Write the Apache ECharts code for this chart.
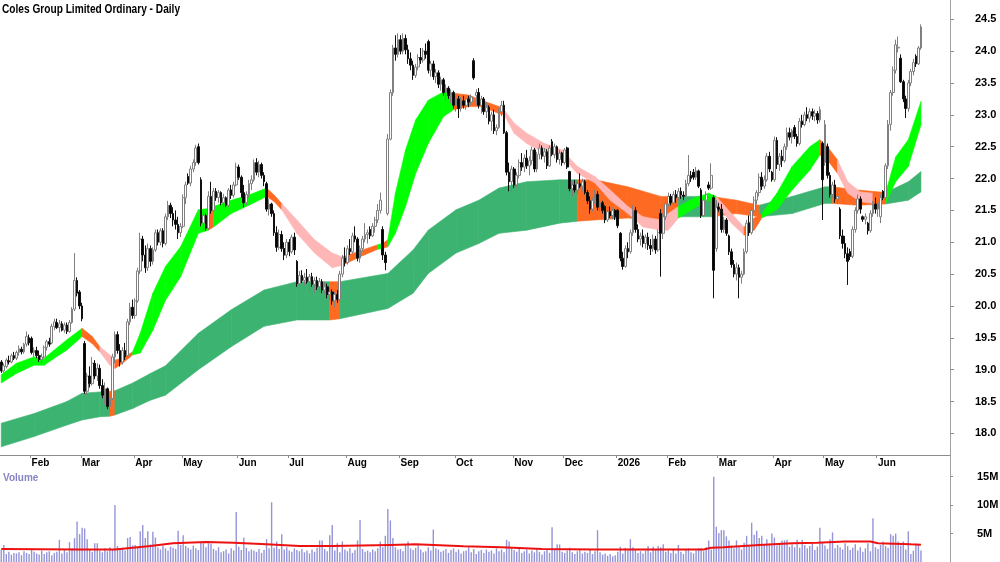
<!DOCTYPE html>
<html>
<head>
<meta charset="utf-8">
<script src="https://cdn.jsdelivr.net/npm/echarts@6.0.0/dist/echarts.min.js"></script>
<style>
  html, body { margin: 0; padding: 0; background: #fff; }
  #chart { width: 1000px; height: 562px; }
</style>
</head>
<body>
<div id="chart"></div>
<script>
// daily bars, [open, high, low, close]
var ohlc = [
  // Jan 2025
  [19.12,19.15,18.95,18.98],[18.98,19.10,18.95,19.06],[19.05,19.18,19.02,19.15],[19.14,19.22,19.08,19.12],
  [19.12,19.25,19.10,19.22],[19.22,19.28,19.15,19.18],[19.18,19.30,19.15,19.27],[19.27,19.38,19.22,19.33],
  [19.32,19.36,19.24,19.28],[19.28,19.42,19.25,19.40],[19.40,19.60,19.36,19.52],[19.50,19.55,19.38,19.42],
  // Feb
  [19.49,19.52,19.24,19.27],[19.27,19.35,19.20,19.30],[19.30,19.36,19.18,19.22],[19.22,19.30,19.12,19.16],
  [19.16,19.25,19.10,19.20],[19.20,19.38,19.18,19.35],[19.35,19.47,19.30,19.44],[19.44,19.50,19.36,19.40],
  [19.42,19.72,19.40,19.68],[19.68,19.80,19.62,19.75],[19.74,19.80,19.64,19.66],[19.66,19.78,19.58,19.72],
  [19.72,19.76,19.60,19.62],[19.62,19.74,19.58,19.70],[19.70,19.74,19.56,19.60],[19.60,19.78,19.58,19.74],
  [19.74,19.98,19.72,19.95],[19.95,20.83,19.92,20.40],[20.40,20.45,20.15,20.20],[20.22,20.25,19.95,20.00],
  // Mar
  [20.00,20.05,19.76,19.80],[19.41,19.45,18.62,18.66],[18.66,18.95,18.60,18.90],[18.90,19.05,18.72,18.78],
  [18.78,19.20,18.75,19.10],[19.10,19.15,18.85,18.90],[18.90,19.10,18.82,19.02],[19.02,19.08,18.70,18.75],
  [18.75,18.85,18.55,18.60],[18.60,18.80,18.45,18.70],[18.70,18.72,18.38,18.42],[18.42,18.60,18.34,18.55],
  [18.55,19.25,18.52,19.20],[19.20,19.60,19.10,19.55],[19.55,19.60,19.25,19.30],[19.30,19.40,19.05,19.12],
  [19.12,19.35,19.08,19.30],[19.30,19.42,19.15,19.20],[19.22,19.80,19.20,19.75],[19.75,20.05,19.70,19.98],
  [19.98,20.10,19.80,19.85],
  // Apr
  [19.85,20.12,19.80,20.08],[20.08,20.60,20.05,20.55],[20.55,21.15,20.50,21.05],[21.05,21.10,20.70,20.80],
  [20.80,20.95,20.52,20.60],[20.60,20.98,20.55,20.90],[20.90,20.95,20.62,20.70],[20.70,20.92,20.65,20.88],
  [20.88,21.20,20.85,21.15],[21.15,21.20,20.95,21.00],[21.00,21.22,20.95,21.18],[21.18,21.22,20.92,20.98],
  [20.98,21.45,20.95,21.40],[21.40,21.65,21.35,21.58],[21.58,21.62,21.38,21.45],[21.45,21.55,21.25,21.35],
  [21.35,21.50,21.20,21.28],[21.28,21.40,21.05,21.15],[21.15,21.30,21.08,21.25],
  // May
  [21.25,21.75,21.22,21.70],[21.70,21.95,21.60,21.90],[22.03,22.08,21.90,21.93],[21.93,22.20,21.88,22.15],
  [22.15,22.30,22.10,22.25],[22.25,22.53,22.20,22.48],[22.50,22.55,22.22,22.25],[21.98,22.02,21.25,21.30],
  [21.30,21.48,21.20,21.42],[21.42,21.45,21.18,21.22],[21.22,21.80,21.20,21.72],[21.72,21.95,21.45,21.50],
  [21.50,21.85,21.48,21.80],[21.80,21.85,21.65,21.70],[21.70,21.82,21.62,21.78],[21.78,21.80,21.58,21.62],
  [21.62,21.76,21.55,21.70],[21.70,21.72,21.55,21.58],[21.58,21.85,21.55,21.82],[21.82,21.90,21.68,21.74],
  [21.74,21.95,21.70,21.90],[21.90,22.25,21.88,22.18],
  // Jun
  [22.18,22.22,21.98,22.02],[22.02,22.05,21.70,21.78],[21.78,21.90,21.55,21.62],[21.62,21.80,21.58,21.75],
  [21.75,21.98,21.70,21.92],[21.92,22.05,21.82,21.98],[21.98,22.30,21.95,22.25],[22.25,22.32,22.05,22.10],
  [22.10,22.28,22.02,22.22],[22.22,22.25,22.00,22.05],[22.05,22.10,21.88,21.95],[21.92,21.95,21.48,21.52],
  [21.52,21.68,21.42,21.60],[21.60,21.62,21.40,21.45],[21.45,21.50,21.10,21.15],[21.15,21.25,20.85,20.92],
  [20.92,21.20,20.88,21.12],[21.12,21.18,20.85,20.90],[20.90,21.00,20.72,20.80],[20.80,21.05,20.75,21.00],
  // Jul
  [21.00,21.05,20.78,20.85],[20.85,21.12,20.82,21.08],[21.08,21.15,20.80,20.88],[20.70,20.72,20.30,20.35],
  [20.35,20.55,20.30,20.48],[20.48,20.56,20.36,20.40],[20.40,20.52,20.32,20.45],[20.45,20.58,20.35,20.38],
  [20.38,20.50,20.22,20.46],[20.46,20.52,20.30,20.34],[20.34,20.45,20.20,20.40],[20.40,20.46,20.25,20.30],
  [20.30,20.44,20.22,20.38],[20.38,20.42,20.20,20.25],[20.25,20.38,20.18,20.30],[20.30,20.35,20.12,20.18],
  [20.18,20.28,20.08,20.22],[20.22,20.26,20.02,20.08],[20.08,20.22,19.98,20.18],[20.18,20.25,20.05,20.10],
  [20.10,20.55,20.08,20.50],[20.50,20.80,20.45,20.75],[20.75,20.92,20.62,20.68],
  // Aug
  [20.68,20.95,20.65,20.90],[20.90,21.05,20.80,20.85],[20.85,21.15,20.82,21.10],[21.10,21.25,21.00,21.05],
  [21.05,21.08,20.70,20.75],[20.75,20.95,20.68,20.90],[20.90,21.10,20.85,21.05],[21.05,21.30,21.00,21.12],
  [21.12,21.20,20.98,21.15],[21.20,21.25,21.05,21.10],[21.10,21.30,21.08,21.25],[21.25,21.40,21.15,21.35],
  [21.35,21.60,21.30,21.50],[21.50,21.78,21.45,21.66],[21.20,21.25,20.72,20.80],[20.80,20.85,20.56,20.68],
  [21.45,22.70,21.42,22.62],[22.62,23.40,22.60,23.35],[23.35,24.10,23.30,24.05],[24.05,24.25,23.85,23.95],
  [23.95,24.28,23.90,24.18],
  // Sep
  [24.18,24.25,23.95,24.00],[24.00,24.28,23.95,24.20],[24.20,24.26,23.95,24.02],[24.02,24.10,23.80,23.88],
  [23.88,23.98,23.70,23.78],[23.78,23.85,23.55,23.62],[23.62,23.80,23.58,23.75],[23.75,23.95,23.70,23.90],
  [23.90,24.05,23.80,23.86],[23.86,24.05,23.82,24.00],[24.00,24.12,23.88,23.95],[24.15,24.18,23.65,23.70],
  [23.70,23.85,23.60,23.80],[23.80,23.85,23.55,23.60],[23.60,23.72,23.50,23.66],[23.66,23.70,23.42,23.48],
  [23.48,23.60,23.38,23.55],[23.55,23.58,23.30,23.35],[23.35,23.48,23.22,23.42],[23.42,23.45,23.25,23.30],
  [23.30,23.40,23.18,23.35],[23.35,23.38,23.10,23.15],
  // Oct
  [23.15,23.30,23.05,23.25],[23.25,23.30,22.95,23.10],[23.10,23.28,23.05,23.22],[23.22,23.30,23.10,23.15],
  [23.15,23.28,23.08,23.25],[23.25,23.30,23.12,23.20],[23.20,23.32,23.15,23.28],[23.85,23.89,23.55,23.58],
  [23.30,23.40,23.15,23.35],[23.35,23.42,23.10,23.15],[23.15,23.30,23.02,23.25],[23.25,23.28,23.00,23.05],
  [23.05,23.20,22.95,23.12],[23.12,23.15,22.85,22.90],[22.90,23.05,22.75,23.00],[23.00,23.08,22.70,22.75],
  [22.75,22.85,22.68,22.80],[22.80,23.10,22.78,23.05],[23.05,23.22,22.98,23.15],[23.15,23.22,22.70,22.72],
  [22.72,22.75,22.05,22.10],[22.10,22.25,21.80,21.95],[21.95,22.20,21.78,22.15],
  // Nov
  [22.15,22.18,21.85,21.90],[21.90,22.10,21.85,22.05],[22.05,22.30,22.00,22.25],[22.25,22.40,22.12,22.18],
  [22.18,22.38,22.10,22.32],[22.32,22.45,22.15,22.20],[22.20,22.35,22.05,22.28],[22.28,22.50,22.22,22.45],
  [22.45,22.48,22.10,22.15],[22.15,22.42,22.10,22.38],[22.38,22.55,22.30,22.48],[22.48,22.52,22.30,22.35],
  [22.35,22.48,22.25,22.42],[22.42,22.46,22.15,22.20],[22.20,22.52,22.18,22.48],[22.58,22.62,22.35,22.38],
  [22.38,22.55,22.32,22.50],[22.50,22.52,22.25,22.30],[22.30,22.45,22.22,22.40],[22.40,22.42,22.20,22.25],
  // Dec
  [22.25,22.48,22.22,22.45],[22.48,22.50,22.15,22.18],[22.11,22.12,21.80,21.84],[21.84,21.95,21.72,21.90],
  [21.90,21.98,21.78,21.82],[21.82,21.96,21.75,21.92],[21.92,22.08,21.85,21.88],[21.88,22.00,21.80,21.95],
  [21.95,21.98,21.75,21.78],[21.78,21.82,21.60,21.65],[21.65,21.72,21.45,21.52],[21.52,21.70,21.48,21.66],
  [21.66,21.82,21.60,21.78],[21.75,21.80,21.50,21.55],[21.55,21.66,21.48,21.62],[21.62,21.65,21.45,21.50],
  [21.56,21.58,21.30,21.35],[21.35,21.52,21.32,21.48],[21.48,21.56,21.38,21.42],[21.42,21.55,21.36,21.50],
  [21.50,21.52,21.35,21.40],
  // Jan 2026
  [21.50,21.52,21.22,21.26],[21.14,21.16,20.70,20.75],[20.75,20.85,20.57,20.62],[20.62,20.95,20.60,20.90],
  [20.90,21.00,20.75,20.85],[20.85,21.20,20.82,21.15],[21.15,21.58,21.10,21.50],[21.50,21.55,21.15,21.20],
  [21.20,21.28,21.00,21.05],[21.05,21.15,20.95,21.10],[21.10,21.20,20.92,20.98],[20.98,21.12,20.90,21.08],
  [21.08,21.15,20.88,20.95],[20.95,21.05,20.80,20.90],[20.90,21.12,20.85,21.05],[21.05,21.10,20.82,20.88],
  [20.88,21.20,20.85,21.15],[21.45,21.52,20.46,21.14],[21.14,21.45,21.05,21.40],[21.40,21.65,21.35,21.60],
  // Feb
  [21.60,21.78,21.55,21.72],[21.72,21.76,21.58,21.62],[21.62,21.80,21.58,21.75],[21.75,21.82,21.62,21.70],
  [21.70,21.85,21.65,21.80],[21.80,21.86,21.68,21.74],[21.74,21.80,21.66,21.72],[21.72,21.98,21.70,21.92],
  [21.92,22.37,21.88,22.05],[22.05,22.12,21.95,22.00],[22.10,22.15,21.98,22.02],[22.02,22.18,21.98,22.12],
  [22.12,22.14,21.85,21.88],[21.82,21.85,21.38,21.42],[21.42,21.70,21.40,21.66],[21.66,21.80,21.60,21.75],
  [21.90,21.95,21.82,21.85],[21.85,22.24,21.82,22.05],[21.70,21.74,20.12,20.56],[20.90,21.66,20.85,21.55],
  // Mar
  [21.55,21.62,21.48,21.52],[21.52,21.60,21.15,21.20],[21.20,21.40,21.15,21.35],[21.35,21.38,21.10,21.14],
  [21.10,21.12,20.80,20.85],[20.85,20.90,20.60,20.65],[20.65,20.72,20.45,20.50],[20.50,20.68,20.40,20.60],
  [20.60,20.65,20.12,20.45],[20.45,20.55,20.35,20.50],[20.50,20.90,20.48,20.85],[20.85,21.35,20.82,21.30],
  [21.30,21.42,21.10,21.15],[21.15,21.55,21.12,21.50],[21.50,21.72,21.45,21.66],[21.66,21.82,21.60,21.78],
  [21.78,22.08,21.72,22.02],[22.02,22.10,21.82,21.88],[21.88,22.05,21.84,21.98],[21.98,22.40,21.95,22.35],
  [22.35,22.42,22.10,22.15],[22.10,22.12,21.95,21.98],
  // Apr
  [21.98,22.66,21.95,22.60],[22.60,22.65,22.15,22.22],[22.22,22.40,22.12,22.35],[22.35,22.45,22.18,22.28],
  [22.28,22.55,22.25,22.50],[22.50,22.80,22.45,22.72],[22.72,22.80,22.60,22.65],[22.65,22.78,22.55,22.75],
  [22.80,22.84,22.62,22.66],[22.66,22.70,22.50,22.55],[22.55,22.95,22.52,22.90],[22.90,23.00,22.80,22.85],
  [22.85,23.05,22.82,23.00],[23.00,23.12,22.90,22.95],[22.95,23.10,22.88,23.05],[23.05,23.10,22.92,22.98],
  [22.98,23.08,22.90,23.02],[23.02,23.06,22.86,22.92],[22.92,23.13,22.88,23.08],[22.55,22.58,21.35,21.98],
  // May
  [22.25,22.92,22.20,22.85],[22.50,22.55,22.00,22.05],[22.05,22.10,21.70,21.75],[21.75,21.95,21.70,21.90],
  [21.90,21.98,21.62,21.68],[21.68,21.80,21.60,21.72],[21.52,21.55,21.05,21.10],[21.10,21.20,20.90,20.98],
  [20.98,21.10,20.75,20.82],[20.82,20.92,20.33,20.70],[20.85,20.90,20.72,20.78],[20.78,21.25,20.75,21.20],
  [21.20,21.55,21.15,21.50],[21.50,21.75,21.45,21.68],[21.68,21.72,21.45,21.52],[21.40,21.42,21.32,21.36],
  [21.36,21.45,21.28,21.40],[21.30,21.32,21.12,21.18],[21.18,21.50,21.15,21.45],[21.45,21.65,21.40,21.60],
  [21.60,21.70,21.45,21.52],
  // Jun
  [21.52,21.66,21.40,21.62],[21.40,21.75,21.30,21.70],[21.80,21.82,21.66,21.70],[21.70,22.24,21.66,22.20],
  [22.20,22.92,22.15,22.85],[22.85,23.39,22.75,23.35],[23.35,23.76,23.30,23.70],[23.70,24.18,23.65,24.10],
  [24.05,24.23,23.98,24.06],[23.89,23.95,23.50,23.52],[23.52,23.55,23.20,23.25],[23.25,23.30,22.95,23.10],
  [23.10,23.55,23.05,23.50],[23.50,23.72,23.45,23.68],[23.68,23.88,23.62,23.82],[23.92,23.95,23.75,23.80],
  [23.80,24.08,23.78,24.05],[24.05,24.42,24.02,24.38]
];

// daily volume, millions
var volume = [
  2.1,3.0,1.4,1.8,1.3,1.6,1.5,1.7,1.2,1.9,1.6,1.4,
  2.2,1.8,1.5,1.3,2.0,1.4,1.7,1.9,1.2,1.6,1.8,3.9,1.5,2.1,1.7,3.5,2.4,4.2,7.1,4.9,
  6.0,5.9,4.0,2.2,1.8,3.3,3.3,2.0,1.7,2.4,1.9,2.6,2.3,10.0,2.8,2.1,2.5,2.0,4.2,4.4,2.9,
  3.0,2.6,5.4,6.5,4.2,5.4,3.1,5.3,4.3,2.6,2.2,2.9,2.4,2.0,2.7,2.5,2.3,5.5,3.0,
  4.7,2.8,2.5,2.2,2.9,2.4,2.1,3.4,3.3,2.6,3.3,3.2,2.3,2.0,2.6,1.7,1.9,2.2,1.5,2.4,2.0,8.8,
  2.7,2.1,4.3,2.5,1.9,2.2,2.0,1.8,2.3,1.6,2.1,4.0,2.4,10.5,2.5,3.6,2.3,4.9,2.2,2.6,
  2.0,1.8,2.4,2.1,1.9,2.3,1.7,2.0,1.5,2.2,1.8,2.5,3.8,3.8,2.3,1.9,4.7,6.5,2.0,3.3,1.7,3.6,2.2,
  1.9,2.4,1.6,2.1,3.8,7.4,2.3,1.8,2.0,1.7,2.2,1.9,2.4,3.6,2.6,4.6,9.3,7.3,4.2,2.6,2.2,
  2.3,1.9,3.0,3.6,2.4,2.1,2.5,2.9,2.2,1.7,1.9,2.6,2.0,5.7,2.4,2.2,1.8,2.0,2.3,1.6,2.1,2.4,
  1.8,2.2,1.5,1.9,2.0,2.6,1.7,2.3,1.4,1.9,2.1,1.6,2.2,1.8,2.0,1.5,2.4,1.9,2.2,1.7,3.9,3.6,2.5,
  2.1,1.8,2.3,1.6,1.9,2.2,1.5,2.0,1.7,2.4,1.8,1.3,1.9,2.1,1.6,6.1,2.2,3.1,3.1,1.8,
  1.6,2.0,2.5,1.7,1.4,1.9,2.2,1.5,1.8,1.6,2.1,1.4,1.9,5.6,1.7,1.3,1.5,1.1,1.4,1.0,1.2,
  1.8,2.7,1.5,2.5,2.0,4.0,2.6,2.2,1.6,1.9,1.5,2.0,2.8,1.7,2.7,2.2,2.8,2.6,3.1,1.8,
  2.0,1.6,2.3,1.5,3.0,1.8,1.4,2.1,2.4,1.7,1.5,2.0,2.4,2.4,1.9,2.6,3.8,2.2,15.0,6.2,
  5.1,5.6,5.6,4.5,3.8,2.9,2.4,3.8,2.6,2.2,3.4,4.6,2.8,6.9,4.8,5.5,4.2,4.6,3.0,4.0,3.2,5.0,
  4.3,2.9,3.3,3.8,3.8,3.9,2.7,3.1,2.6,3.9,2.5,3.9,3.0,2.4,2.8,3.2,2.1,2.7,6.0,3.5,
  2.9,2.3,4.0,5.2,2.4,3.0,2.6,2.2,3.3,2.8,2.1,2.5,3.1,2.0,2.6,1.8,2.4,3.3,1.9,7.7,2.6,
  2.3,3.0,3.6,2.8,2.5,4.9,4.6,5.0,3.6,2.9,3.6,2.2,5.4,1.4,2.0,3.2,3.0,2.0
];

// volume average line, read at these bars
var volMaIdx = [0,31,45,59,68,81,92,105,118,131,154,164,183,198,214,235,262,278,281,286,300,313,323,334,344,347,360,364];
var volMa = [2.3,2.2,2.2,2.8,3.3,3.5,3.4,3.1,2.8,2.8,3.0,3.1,2.75,2.6,2.3,2.2,2.2,2.2,2.5,2.6,3.0,3.3,3.4,3.6,3.6,3.3,3.1,3.05];

// short-term average ribbon (top / bottom), read at these bars
var shortIdx = [0,6,13,17,21,26, 32,36,39,43,45,48, 52,55,60,65,71,78, 82,84,91,98,105,108,
  111,117,124,131,135,143, 149,151,153,156,160,164, 169,175,179,185,190,197, 199,203,208,215,222,228,
  235,241,248,254,261,264, 268,274,280,283,289,294, 298,301,307,313,320,324, 327,331,335,340,345,350, 354,359,364];
var shortHi = [18.92,19.10,19.20,19.18,19.31,19.47, 19.65,19.52,19.36,19.23,19.15,19.18, 19.28,19.57,20.20,20.62,20.93,21.51,
  21.53,21.56,21.66,21.74,21.85,21.74, 21.61,21.35,21.04,20.83,20.77,20.88, 20.96,20.98,21.04,21.77,22.45,22.92,
  23.23,23.36,23.34,23.31,23.23,23.13, 23.08,22.87,22.71,22.55,22.45,22.19, 22.03,21.82,21.56,21.40,21.35,21.45,
  21.56,21.69,21.77,21.72,21.45,21.24, 21.38,21.45,21.77,22.19,22.50,22.61, 22.50,22.29,21.95,21.79,21.77,21.77,
  22.34,22.61,23.21];
var shortLo = [18.79,18.94,19.07,19.07,19.18,19.31, 19.52,19.41,19.28,19.07,19.02,19.10, 19.23,19.26,19.62,20.09,20.46,21.14,
  21.19,21.24,21.45,21.58,21.72,21.64, 21.51,21.14,20.83,20.60,20.64,20.79, 20.89,20.90,20.93,21.14,21.56,22.08,
  22.55,22.97,23.08,23.13,23.13,23.02, 23.00,22.71,22.55,22.40,22.34,22.08, 21.93,21.66,21.45,21.24,21.19,21.19,
  21.38,21.53,21.66,21.61,21.30,21.11, 21.19,21.38,21.51,21.82,22.13,22.37, 22.29,22.08,21.77,21.64,21.61,21.61,
  21.95,22.19,22.84];
// g = rising, o = mixed, p = falling (state from each sample to the next)
var shortState = ['g','g','g','g','g','g', 'o','o','p','p','o','o', 'g','g','g','g','g','g', 'o','g','g','g','o','o',
  'p','p','p','p','o','o', 'g','o','g','g','g','g', 'g','g','o','o','o','o', 'p','p','p','p','p','p',
  'p','p','p','p','p','p', 'g','g','g','p','p','o', 'o','g','g','g','g','o', 'o','p','p','p','o','g', 'g','g','g'];

// long-term average ribbon
var longIdx = [0,13,26,32,39,43, 45,52,59,65,78,91, 104,117,130,134,153,163, 169,180,189,197,208,221,
  228,235,248,261,268,281, 291,300,313,326,329,339, 350,359,364];
var longHi = [18.16,18.31,18.50,18.63,18.65,18.66, 18.67,18.79,18.94,19.06,19.57,19.94, 20.25,20.38,20.38,20.38,20.51,20.88,
  21.19,21.51,21.66,21.85,21.95,21.98, 21.98,21.98,21.87,21.72,21.72,21.72, 21.66,21.58,21.72,21.87,21.87,21.82,
  21.78,21.95,22.11];
var longLo = [17.79,17.95,18.13,18.21,18.26,18.27, 18.29,18.39,18.52,18.60,19.00,19.36, 19.68,19.78,19.78,19.80,19.96,20.20,
  20.51,20.83,20.98,21.14,21.19,21.30, 21.33,21.35,21.38,21.35,21.40,21.40, 21.45,21.40,21.45,21.61,21.61,21.58,
  21.60,21.66,21.79];
// d = rising, o = mixed
var longState = ['d','d','d','d','d','o', 'd','d','d','d','d','d', 'd','d','o','d','d','d', 'd','d','d','d','d','d',
  'o','o','o','o','d','o', 'o','d','d','d','o','o', 'd','d','d'];

var monthNames = ['Jan','Feb','Mar','Apr','May','Jun','Jul','Aug','Sep','Oct','Nov','Dec'];
var holidays = ['2025-01-27','2025-04-18','2025-04-21','2025-04-25','2025-06-09','2025-12-25','2025-12-26',
  '2026-01-01','2026-01-26','2026-04-03','2026-04-06','2026-06-08'];

// trading days, with a few empty slots after the last bar
var dates = [];
var day = new Date(Date.UTC(2025, 0, 15));
while (dates.length < 376) {
  var s = day.toISOString().slice(0, 10);
  var wd = day.getUTCDay();
  if (wd !== 0 && wd !== 6 && holidays.indexOf(s) < 0) dates.push(s);
  day.setUTCDate(day.getUTCDate() + 1);
}

function isMonthStart(i) {
  return i > 0 && i < ohlc.length && dates[i].slice(5, 7) !== dates[i - 1].slice(5, 7);
}

var FONT = '"Liberation Sans", Arial, sans-serif';
var bandColors = { g: '#00ff00', o: '#ff6a22', p: '#ffb6b6', d: '#3cb371' };

function segments(idx, hi, lo) {
  var out = [];
  for (var i = 0; i < idx.length - 1; i++) {
    out.push([idx[i], hi[i], lo[i], idx[i + 1], hi[i + 1], lo[i + 1]]);
  }
  return out;
}

function bandRenderer(states) {
  return function (params, api) {
    var a = api.coord([api.value(0), api.value(1)]);
    var b = api.coord([api.value(3), api.value(4)]);
    var c = api.coord([api.value(3), api.value(5)]);
    var d = api.coord([api.value(0), api.value(2)]);
    var col = bandColors[states[params.dataIndex]];
    return {
      type: 'polygon',
      shape: { points: [a, b, c, d] },
      style: { fill: col, stroke: col, lineWidth: 0.6 }
    };
  };
}

var candles = ohlc.map(function (r) { return [r[0], r[3], r[2], r[1]]; });
var maLine = volMaIdx.map(function (x, i) { return [x, volMa[i]]; });

var axisGray = '#a0a0a0';

var chart = echarts.init(document.getElementById('chart'));
chart.setOption({
  animation: false,
  backgroundColor: '#ffffff',
  grid: [
    { left: 0, right: 50, top: -12.55, height: 477.75, outerBoundsMode: 'none' },
    { left: 0, right: 50, top: 469, height: 93, outerBoundsMode: 'none' }
  ],
  xAxis: [
    {
      type: 'category', gridIndex: 0, data: dates, boundaryGap: true,
      position: 'bottom', offset: -10.2,
      axisLine: { show: true, lineStyle: { color: '#8c8c8c', width: 1 } },
      axisTick: { show: true, length: 3, interval: isMonthStart, lineStyle: { color: '#8c8c8c' } },
      axisLabel: {
        show: true, interval: isMonthStart, align: 'left', margin: 3, hideOverlap: false,
        fontFamily: FONT, fontSize: 10, fontWeight: 'bold', color: '#000',
        formatter: function (v) {
          var m = +v.slice(5, 7);
          return m === 1 ? v.slice(0, 4) : monthNames[m - 1];
        }
      },
      splitLine: { show: false }
    },
    {
      type: 'category', gridIndex: 1, data: dates, boundaryGap: true, position: 'top',
      axisLine: { show: true, lineStyle: { color: axisGray, width: 1 } },
      axisTick: { show: false }, axisLabel: { show: false }, splitLine: { show: false }
    }
  ],
  yAxis: [
    {
      type: 'value', gridIndex: 0, position: 'right', min: 17.5, max: 25, interval: 0.5,
      axisLine: { show: false },
      axisTick: { show: true, length: 4, lineStyle: { color: '#8c8c8c' } },
      axisLabel: {
        margin: 25, fontFamily: FONT, fontSize: 11, fontWeight: 'bold', color: '#000',
        showMinLabel: false, showMaxLabel: false,
        formatter: function (v) { return v.toFixed(1); }
      },
      splitLine: { show: false }
    },
    {
      type: 'value', gridIndex: 1, position: 'right', min: 0, max: 16.35, interval: 5,
      axisLine: { show: false },
      axisTick: { show: true, length: 3, lineStyle: { color: '#8c8c8c' } },
      axisLabel: {
        margin: 27, fontFamily: FONT, fontSize: 11, fontWeight: 'bold', color: '#000',
        showMinLabel: false, showMaxLabel: false,
        formatter: function (v) { return v + 'M'; }
      },
      splitLine: { show: false }
    }
  ],
  series: [
    {
      type: 'custom', name: 'long', xAxisIndex: 0, yAxisIndex: 0,
      data: segments(longIdx, longHi, longLo),
      encode: { x: [0, 3], y: [1, 2, 4, 5] },
      renderItem: bandRenderer(longState), z: 1
    },
    {
      type: 'custom', name: 'short', xAxisIndex: 0, yAxisIndex: 0,
      data: segments(shortIdx, shortHi, shortLo),
      encode: { x: [0, 3], y: [1, 2, 4, 5] },
      renderItem: bandRenderer(shortState), z: 2
    },
    {
      type: 'candlestick', name: 'price', xAxisIndex: 0, yAxisIndex: 0,
      data: candles, barWidth: 2.2, z: 3,
      itemStyle: {
        color: '#ffffff', color0: '#000000',
        borderColor: '#808080', borderColor0: '#111111', borderColorDoji: '#808080',
        borderWidth: 1
      }
    },
    {
      type: 'bar', name: 'volume', xAxisIndex: 1, yAxisIndex: 1,
      data: volume, barWidth: 1.4,
      itemStyle: { color: '#9494d8' }
    },
    {
      type: 'line', name: 'volume avg', xAxisIndex: 1, yAxisIndex: 1,
      data: maLine, showSymbol: false, symbol: 'none',
      lineStyle: { color: '#ee1111', width: 2 }, z: 5
    }
  ],
  graphic: [
    {
      type: 'line', shape: { x1: 950.5, y1: 0, x2: 950.5, y2: 562 },
      style: { stroke: axisGray, lineWidth: 1 }, z: 10
    },
    {
      type: 'text', x: 2, y: 4, scaleX: 0.845,
      style: { text: 'Coles Group Limited Ordinary - Daily', font: 'bold 12px "Liberation Sans", Arial', fill: '#000' }
    },
    {
      type: 'text', x: 3, y: 473,
      style: { text: 'Volume', font: 'bold 10px "Liberation Sans", Arial', fill: '#8585c5' }
    }
  ]
});
</script>
</body>
</html>
